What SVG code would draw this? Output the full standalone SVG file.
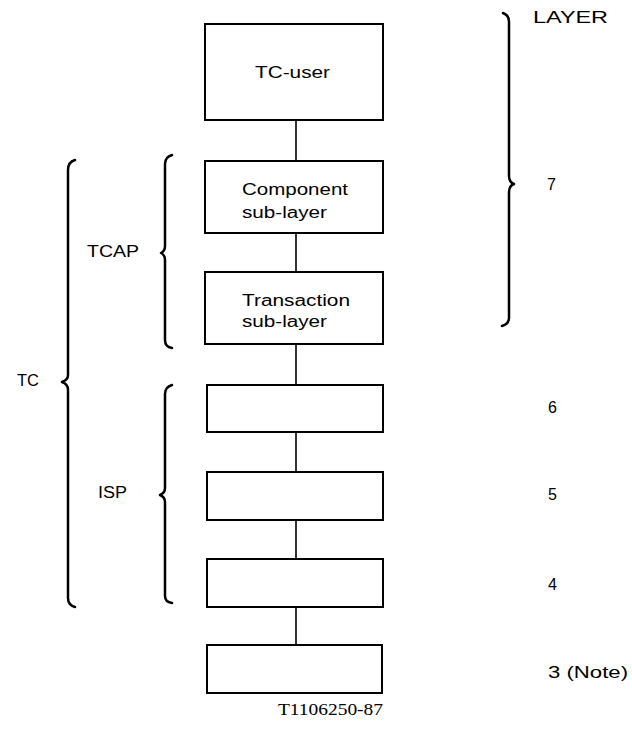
<svg xmlns="http://www.w3.org/2000/svg" width="632" height="729" viewBox="0 0 632 729">
<style>
.box{fill:#fff;stroke:#000;stroke-width:2}
.conn{stroke:#000;stroke-width:1.6;fill:none}
.brace{stroke:#000;stroke-width:2.5;fill:none;stroke-linecap:round;stroke-linejoin:round}
text{font-family:"Liberation Sans",Arial,sans-serif;font-size:16px;fill:#000}
.ser{font-family:"Liberation Serif","Times New Roman",serif;font-size:16px}
</style>
<rect width="632" height="729" fill="#fff"/>
<g id="connectors">
<line class="conn" x1="296" y1="120" x2="296" y2="161"/>
<line class="conn" x1="296" y1="233" x2="296" y2="272"/>
<line class="conn" x1="296" y1="344" x2="296" y2="385"/>
<line class="conn" x1="296" y1="432" x2="296" y2="472"/>
<line class="conn" x1="296" y1="520" x2="296" y2="559"/>
<line class="conn" x1="296" y1="607" x2="296" y2="645"/>
</g>
<g id="tc-user">
<rect class="box" x="205" y="24" width="178" height="96"/>
<text x="255" y="78" textLength="75" lengthAdjust="spacingAndGlyphs">TC-user</text>
</g>
<g id="component">
<rect class="box" x="205" y="161" width="178" height="72"/>
<text x="242" y="195" textLength="106" lengthAdjust="spacingAndGlyphs">Component</text>
<text x="242" y="218" textLength="85" lengthAdjust="spacingAndGlyphs">sub-layer</text>
</g>
<g id="transaction">
<rect class="box" x="205" y="272" width="178" height="72"/>
<text x="242" y="306" textLength="108" lengthAdjust="spacingAndGlyphs">Transaction</text>
<text x="242" y="327" textLength="85" lengthAdjust="spacingAndGlyphs">sub-layer</text>
</g>
<g id="layer6"><rect class="box" x="207" y="385" width="176" height="47"/></g>
<g id="layer5"><rect class="box" x="207" y="472" width="176" height="48"/></g>
<g id="layer4"><rect class="box" x="207" y="559" width="176" height="48"/></g>
<g id="layer3"><rect class="box" x="207" y="645" width="175" height="48"/></g>
<g id="layer-brace">
<path class="brace" d="M503 13 Q509 15 509 22 L509 176 Q509 182 514 184 Q509 186 509 192 L509 318 Q509 324 502 326"/>
<text x="533" y="23" textLength="75" lengthAdjust="spacingAndGlyphs">LAYER</text>
<text x="547" y="190">7</text>
</g>
<g id="tcap-brace">
<path class="brace" d="M172 155 Q165 157 165 164 L165 246 Q165 251 161 253 Q165 255 165 260 L165 340 Q165 347 172 348"/>
<text x="87" y="257" textLength="52" lengthAdjust="spacingAndGlyphs">TCAP</text>
</g>
<g id="tc-brace">
<path class="brace" d="M75 160 Q68 162 68 170 L68 375 Q68 380 62 382 Q68 384 68 390 L68 598 Q68 605 75 607"/>
<text x="17" y="386" textLength="22" lengthAdjust="spacingAndGlyphs">TC</text>
</g>
<g id="isp-brace">
<path class="brace" d="M172 385 Q165 387 165 394 L165 488 Q165 493 160 495 Q165 497 165 502 L165 596 Q165 602 172 603"/>
<text x="98" y="498" textLength="29" lengthAdjust="spacingAndGlyphs">ISP</text>
</g>
<g id="layer-numbers">
<text x="548" y="413">6</text>
<text x="548" y="500">5</text>
<text x="548" y="590">4</text>
<text x="548" y="678" textLength="80" lengthAdjust="spacingAndGlyphs">3 (Note)</text>
</g>
<text class="ser" x="278" y="715" textLength="105" lengthAdjust="spacingAndGlyphs">T1106250-87</text>
</svg>
